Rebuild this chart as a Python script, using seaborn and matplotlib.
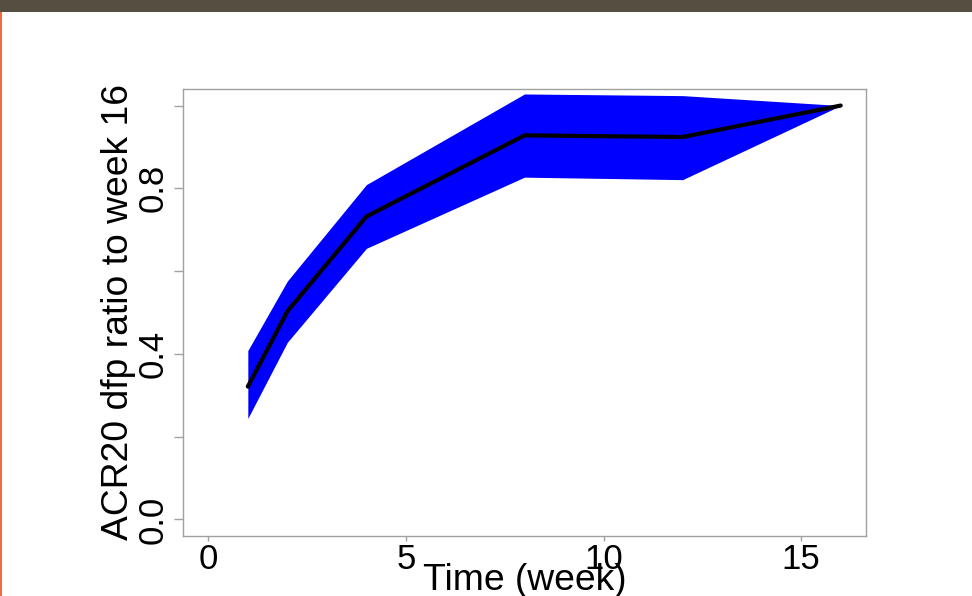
import matplotlib
matplotlib.use("Agg")
import matplotlib.pyplot as plt
import seaborn as sns
import pandas as pd

# ---- data ----
weeks = [1, 2, 4, 8, 12, 16]
ratio = [0.321, 0.503, 0.732, 0.928, 0.924, 1.0]
lower = [0.244, 0.428, 0.655, 0.827, 0.821, 1.0]
upper = [0.408, 0.576, 0.809, 1.028, 1.024, 1.0]

x_ticks = [0, 5, 10, 15]
y_ticks = [0.0, 0.2, 0.4, 0.6, 0.8, 1.0]
y_tick_labels = ["0.0", "", "0.4", "", "0.8", ""]
x_label = "Time (week)"
y_label = "ACR20 dfp ratio to week 16"

df = pd.DataFrame({"week": weeks, "ratio": ratio, "lower": lower, "upper": upper})

sns.set_style("white")
plt.rcParams["font.family"] = ["Liberation Sans", "DejaVu Sans"]
plt.rcParams["text.color"] = "black"
plt.rcParams["axes.labelcolor"] = "black"

fig = plt.figure(figsize=(9.72, 5.96), dpi=100)
ax = fig.add_axes([183 / 972, 60 / 596, 683 / 972, 447 / 596])

# header bar and left accent line of the slide
fig.patches.append(plt.Rectangle((0, 1 - 12 / 596), 1, 12 / 596, transform=fig.transFigure,
                                 facecolor="#564e40", edgecolor="none", zorder=0))
fig.patches.append(plt.Rectangle((0, 0), 2 / 972, 1 - 12 / 596, transform=fig.transFigure,
                                 facecolor="#f26b38", edgecolor="none", zorder=0))

ax.fill_between(df["week"], df["lower"], df["upper"], color="#0000ff", linewidth=0, zorder=1)
sns.lineplot(data=df, x="week", y="ratio", ax=ax, color="black", linewidth=3.0,
             zorder=3, solid_capstyle="round", solid_joinstyle="round")

ax.set_xlim(-0.64, 16.64)
ax.set_ylim(-0.04, 1.04)
ax.set_xticks(x_ticks)
ax.set_xticklabels([str(v) for v in x_ticks])
ax.set_yticks(y_ticks)
ax.set_yticklabels(y_tick_labels, rotation=90, va="center")

for s in ax.spines.values():
    s.set_color("#a0a0a0")
    s.set_linewidth(1.0)

ax.tick_params(axis="x", which="both", direction="out", length=3.6, width=1.0,
               color="#a0a0a0", pad=1.5, labelsize=25, labelcolor="black", bottom=True)
ax.tick_params(axis="y", which="both", direction="out", length=6.5, width=1.0,
               color="#a0a0a0", pad=3.0, labelsize=25, labelcolor="black", left=True)

ax.set_xlabel(x_label, fontsize=26.8, color="black")
ax.set_ylabel(y_label, fontsize=26.8, color="black")
ax.xaxis.label.set_va("baseline")
ax.xaxis.set_label_coords(0.5, (536 - 589.5) / 447)
ax.yaxis.label.set_va("center")
ax.yaxis.set_label_coords((118 - 183) / 683, 0.5)

fig.savefig("out.png", dpi=100)
